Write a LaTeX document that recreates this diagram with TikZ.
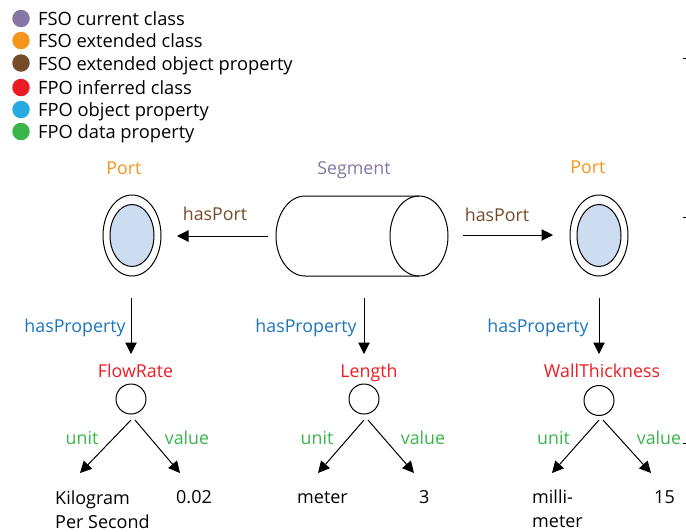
\documentclass[tikz,border=0pt]{standalone}
\usepackage{fontspec}
\setmainfont{Open Sans}
\usetikzlibrary{arrows.meta,shapes.geometric}
\definecolor{cfsoc}{HTML}{8576A3}
\definecolor{cfsoe}{HTML}{F7941E}
\definecolor{cfsop}{HTML}{754C29}
\definecolor{cfpoi}{HTML}{ED1C24}
\definecolor{cfpoo}{HTML}{27AAE1}
\definecolor{cfpod}{HTML}{39B54A}
\definecolor{cblue}{HTML}{1C75BC}
\definecolor{cfill}{HTML}{CCDDF2}
\tikzset{
 txt/.style={font=\fontsize{18}{22}\selectfont,inner sep=0pt,anchor=base west,text=#1},
 txt/.default=black,
 legtxt/.style={font=\fontsize{18.3}{22}\selectfont,inner sep=0pt,anchor=base west,text=black},
 ctxt/.style={font=\fontsize{17.8}{22}\selectfont,inner sep=0pt,anchor=base,text=#1},
 ctxt/.default=black,
 dot/.style={circle,fill=#1,minimum size=17.5pt,inner sep=0pt},
 outerport/.style={ellipse,draw=black,line width=1pt,minimum width=58pt,minimum height=81pt,inner sep=0pt},
 innerport/.style={ellipse,draw=black,fill=cfill,line width=1pt,minimum width=44pt,minimum height=62pt,inner sep=0pt},
 blank/.style={circle,draw=black,line width=1pt,minimum size=30pt,inner sep=0pt},
 arr/.style={-{Triangle[length=11.5pt,width=11.5pt]},line width=1pt,black},
}
\begin{document}
\begin{tikzpicture}[x=1pt,y=-1pt]
\useasboundingbox (0,0) rectangle (686,531);
% legend
\foreach \n/\c/\y/\t in {a/cfsoc/18.5/FSO current class,b/cfsoe/40.5/FSO extended class,c/cfsop/63/FSO extended object property,d/cfpoi/87.5/FPO inferred class,e/cfpoo/109.5/FPO object property,f/cfpod/131.5/FPO data property}{
 \node[dot=\c] (dot\n) at (21,\y) {};
 \node[legtxt] (leg\n) at (38,\y+7) {\t};
}
% titles
\node[ctxt=cfsoe] (tp1) at (124,174) {Port};
\node[ctxt=cfsoc] (tseg) at (354,174) {Segment};
\node[ctxt=cfsoe] (tp2) at (588,173) {Port};
% ports
\node[outerport] (p1o) at (132,235.5) {};
\node[innerport] (p1i) at (132,235.5) {};
\node[outerport] (p2o) at (599,235.5) {};
\node[innerport] (p2i) at (599,235.5) {};
% cylinder
\draw[line width=1pt] (419,196) -- (305,196) .. controls (289,196) and (276,214) .. (276,236) .. controls (276,258) and (289,276) .. (305,276) -- (419,276);
\node[ellipse,draw=black,line width=1pt,minimum width=58pt,minimum height=80pt,inner sep=0pt] (segend) at (419,236) {};
% hasPort
\coordinate (a1s) at (268,236); \coordinate (a1e) at (177,236);
\coordinate (a2s) at (463,235); \coordinate (a2e) at (553,235);
\draw[arr] (a1s) -- (a1e);
\draw[arr] (a2s) -- (a2e);
\node[ctxt=cfsop] (hp1) at (215,220) {hasPort};
\node[ctxt=cfsop] (hp2) at (497,221) {hasPort};
% trees
\foreach \k/\x/\yc/\lx/\rx/\prop/\plx/\ptx/\ulx/\vlx in {
 l/131/399/80/180/FlowRate/75/135.5/82/187,
 m/364/399/318/414/Length/306/369/317/423,
 r/599/400.5/552/651/WallThickness/538/602/553.5/659}{
 \coordinate (vs\k) at (\x,298); \coordinate (ve\k) at (\x,354);
 \node[blank] (c\k) at (\x,\yc) {};
 \draw[arr] (vs\k) -- (ve\k);
 \node[ctxt=cblue] (hpr\k) at (\plx,332) {hasProperty};
 \node[ctxt=cfpoi] (pr\k) at (\ptx,377) {\prop};
 \coordinate (ls\k) at (\x,420); \coordinate (le\k) at (\lx,473);
 \coordinate (rs\k) at (\x+4,420); \coordinate (re\k) at (\rx,473);
 \draw[arr] (ls\k) -- (le\k);
 \draw[arr] (rs\k) -- (re\k);
 \node[ctxt=cfpod] (u\k) at (\ulx,444) {unit};
 \node[ctxt=cfpod] (v\k) at (\vlx,444) {value};
}
% leaves
\node[txt] (k1) at (55,504) {Kilogram};
\node[txt] (k2) at (55,528) {Per Second};
\node[txt] (k3) at (176,503) {0.02};
\node[txt] (m1) at (297,503) {meter};
\node[txt] (m2) at (419,503) {3};
\node[txt] (w1) at (532,503) {milli-};
\node[txt] (w2) at (532,527) {meter};
\node[txt] (w3) at (654,503) {15};
% clipped fragments at right edge
\draw[line width=.8pt] (683,58.5) -- (686,58.5) (683,217.5) -- (686,217.5) (683,443) -- (686,443);
\end{tikzpicture}
\end{document}
